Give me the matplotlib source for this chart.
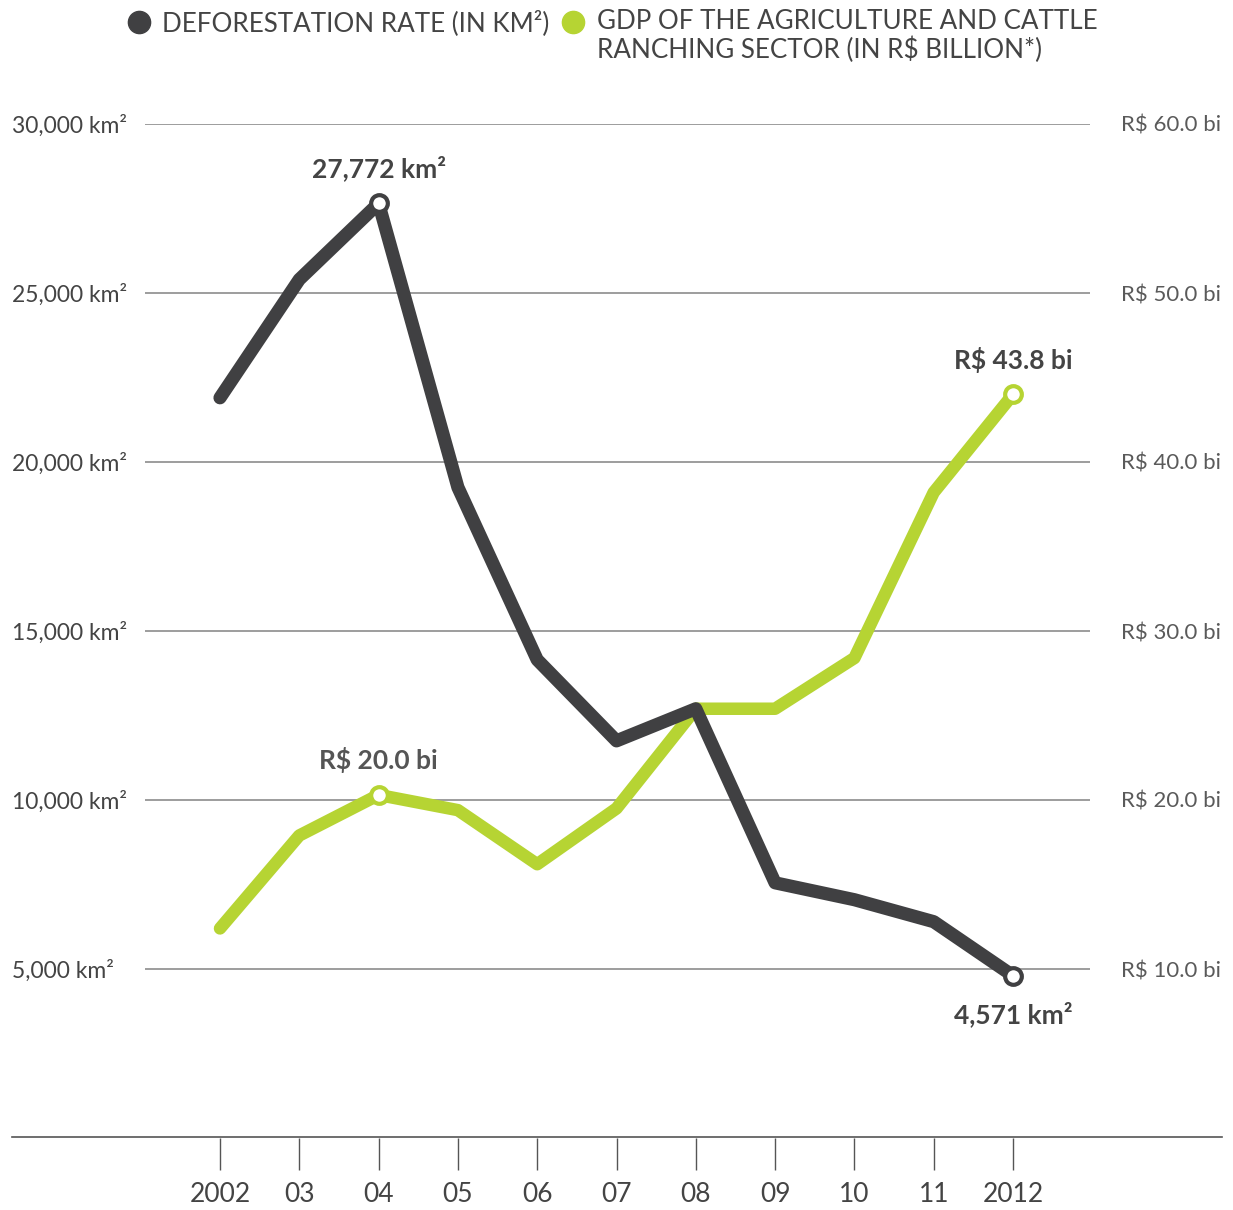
import matplotlib
matplotlib.use("Agg")
import matplotlib.pyplot as plt
from matplotlib.lines import Line2D

plt.rcParams['font.family'] = ['Lato', 'DejaVu Sans']

years = [2002, 2003, 2004, 2005, 2006, 2007, 2008, 2009, 2010, 2011, 2012]
year_labels = ["2002", "03", "04", "05", "06", "07", "08", "09", "10", "11", "2012"]
deforestation = [21900, 25400, 27650, 19250, 14150, 11750, 12700, 7550, 7050, 6400, 4800]
gdp = [12.4, 17.9, 20.3, 19.4, 16.2, 19.5, 25.4, 25.4, 28.4, 38.2, 44.0]
left_ticks = [5000, 10000, 15000, 20000, 25000, 30000]
left_labels = ["5,000 km²", "10,000 km²", "15,000 km²", "20,000 km²", "25,000 km²", "30,000 km²"]
right_ticks = [10, 20, 30, 40, 50, 60]
right_labels = ["R$ 10.0 bi", "R$ 20.0 bi", "R$ 30.0 bi", "R$ 40.0 bi", "R$ 50.0 bi", "R$ 60.0 bi"]

DARK = "#404042"
GREEN = "#b6d433"
W, H = 1233, 1210
fig = plt.figure(figsize=(W / 100, H / 100), dpi=100)

x0, x1 = 145, 1090
ytop, ybot = 124, 1138
ax = fig.add_axes([x0 / W, (H - ybot) / H, (x1 - x0) / W, (ybot - ytop) / H])
ax.set_ylim(0, 30000)
px_per_year = 79.3
ax.set_xlim(2002 - (220 - x0) / px_per_year, 2012 + (x1 - 1013) / px_per_year)

for s in ax.spines.values():
    s.set_visible(False)

ax.set_yticks(left_ticks)
ax.set_yticklabels(left_labels)
ax.tick_params(axis='y', length=0, pad=133 * 0.72, labelsize=16.5, labelcolor="#444444")
for t in ax.get_yticklabels():
    t.set_horizontalalignment('left')
ax.yaxis.grid(True, color="#8c8c8c", linewidth=1.2)
ax.set_axisbelow(True)

ax.set_xticks(years)
ax.set_xticklabels(year_labels)
ax.tick_params(axis='x', length=32 * 0.72, width=1.0, color="#555555", direction='out',
               pad=9, labelsize=19, labelcolor="#444444")

ax2 = ax.twinx()
ax2.set_ylim(0, 60)
for s in ax2.spines.values():
    s.set_visible(False)
ax2.set_yticks(right_ticks)
ax2.set_yticklabels(right_labels)
ax2.tick_params(axis='y', length=0, pad=131 * 0.72, labelsize=16, labelcolor="#5a5a5a")
for t in ax2.yaxis.get_majorticklabels():
    t.set_horizontalalignment('right')

ax3 = ax.twinx()
ax3.set_ylim(0, 30000)
ax3.axis('off')
ax2.yaxis.tick_right()

# lines
ax2.plot(years, gdp, color=GREEN, lw=9, solid_joinstyle='round', solid_capstyle='round', zorder=2)
ax2.plot([years[2], years[10]], [gdp[2], gdp[10]], ls='none', marker='o', ms=12,
         mfc='white', mec=GREEN, mew=3, zorder=3, clip_on=False)

ax3.plot(years, deforestation, color=DARK, lw=9.5, solid_joinstyle='round', solid_capstyle='round', zorder=2)
ax3.plot([years[2], years[10]], [deforestation[2], deforestation[10]], ls='none', marker='o', ms=12,
         mfc='white', mec=DARK, mew=3, zorder=3, clip_on=False)

bold = dict(fontsize=19, fontweight='bold', ha='center', va='center')
ax3.annotate("27,772 km²", (years[2], deforestation[2]), xytext=(0, 25), textcoords='offset points',
             color="#444444", **bold)
ax3.annotate("4,571 km²", (years[10], deforestation[10]), xytext=(0, -28), textcoords='offset points',
             color="#444444", **bold)
ax2.annotate("R$ 20.0 bi", (years[2], gdp[2]), xytext=(0, 25), textcoords='offset points',
             color="#555555", **bold)
ax2.annotate("R$ 43.8 bi", (years[10], gdp[10]), xytext=(0, 25), textcoords='offset points',
             color="#444444", **bold)

# bottom baseline
fig.add_artist(Line2D([12 / W, 1222 / W], [(H - 1137) / H] * 2, transform=fig.transFigure,
                      color="#555555", lw=1.2))

# legend
def fy(y):
    return (H - y) / H

fig.add_artist(Line2D([139 / W], [fy(22)], transform=fig.transFigure, marker='o', ms=16,
                      mfc=DARK, mec=DARK, ls='none'))
fig.add_artist(Line2D([573 / W], [fy(22)], transform=fig.transFigure, marker='o', ms=16,
                      mfc=GREEN, mec=GREEN, ls='none'))
fig.text(162 / W, fy(23), "DEFORESTATION RATE (IN KM²)", fontsize=18.7, fontweight='normal',
         color="#444444", ha='left', va='center')
fig.text(597 / W, fy(9), "GDP OF THE AGRICULTURE AND CATTLE\nRANCHING SECTOR (IN R$ BILLION*)",
         fontsize=18.7, fontweight='normal', color="#444444", ha='left', va='top', linespacing=1.1)

fig.savefig("out.png", dpi=100)
